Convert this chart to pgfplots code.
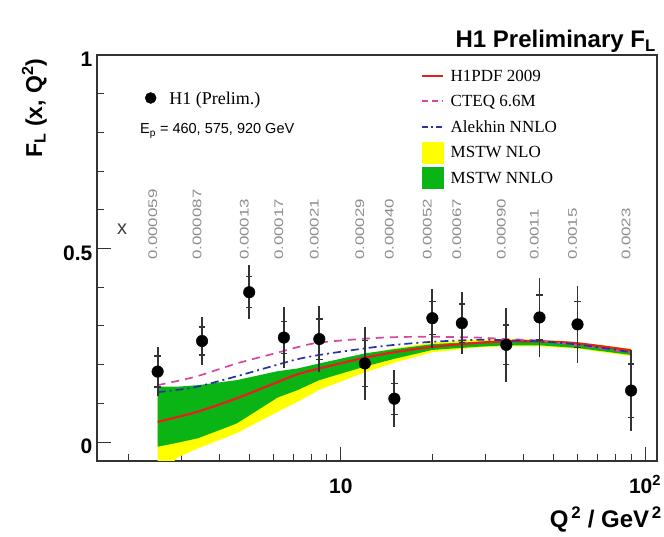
\documentclass[border=0pt]{standalone}
\usepackage{fontspec}
\setmainfont{Liberation Serif}
\newfontfamily\sansf{Liberation Sans}
\usepackage{graphicx}
\usepackage{pgfplots}
\usepackage{pgfplotstable}
\pgfplotsset{compat=1.18}

\definecolor{hred}{RGB}{230,30,30}
\definecolor{cteq}{RGB}{215,70,160}
\definecolor{alek}{RGB}{40,50,160}
\definecolor{mgreen}{RGB}{10,180,20}
\definecolor{myellow}{RGB}{255,255,0}

\pgfplotstableread{
x    y     tot    stat
2.5  0.182 0.064  0.040
3.5  0.261 0.061  0.036
5    0.387 0.070  0.040
6.5  0.270 0.078  0.042
8.5  0.266 0.085  0.052
12   0.203 0.095  0.060
15   0.112 0.073  0.040
20   0.320 0.076  0.043
25   0.307 0.080  0.050
35   0.251 0.096  0.051
45   0.322 0.102  0.058
60   0.304 0.099  0.059
90   0.133 0.105  0.069
}\hdata

\newcommand{\xl}[2]{\node[rotate=90, anchor=west, inner sep=0pt, text=black!45, font=\sansf\fontsize{12.5bp}{12.5bp}\selectfont] at (axis cs:#1,0.47) {\scalebox{1.35}[1]{#2}};}

\begin{document}
\begin{tikzpicture}
\useasboundingbox (0,0) rectangle (664bp,537bp);
\begin{axis}[
  at={(97bp,76bp)}, anchor=south west,
  scale only axis, width=560bp, height=406bp,
  xmode=log, xmin=1.58, xmax=109.5, ymin=-0.049, ymax=1,
  axis line style={line width=1.3bp, black!80},
  xtick={10,100}, xticklabels={10,{10\textsuperscript{2}}},
  minor xtick={2,3,4,5,6,7,8,9,20,30,40,50,60,70,80,90},
  ytick={0,0.5,1}, yticklabels={0,0.5,1},
  minor ytick={0.1,0.2,0.3,0.4,0.6,0.7,0.8,0.9},
  tick align=inside, xtick pos=left, ytick pos=left,
  major tick length=14bp, minor tick length=7bp,
  every tick/.style={line width=1bp, black!80},
  xticklabel style={font=\sansf\bfseries\fontsize{21bp}{21bp}\selectfont, anchor=north, inner sep=0pt, text height=15bp, text depth=0pt, yshift=-17bp},
  yticklabel style={font=\sansf\bfseries\fontsize{21bp}{21bp}\selectfont, anchor=east, inner sep=0pt, xshift=-4.5bp, yshift=-4.5bp},
  legend style={at={(0.5786,0.9803)}, anchor=north west, draw=none, fill=none,
    inner sep=0pt, outer sep=0pt, column sep=6.5bp, row sep=0pt,
    font=\fontsize{17bp}{17bp}\selectfont,
    nodes={inner sep=0pt, text depth=0pt, minimum height=25.5bp},
    cells={anchor=west}},
]
% MSTW NLO band
\addplot[draw=none, fill=myellow, forget plot] coordinates {
 (2.5,0.120) (2.9,0.130) (3.4,0.140) (4.55,0.155) (6.2,0.175) (7.2,0.185)
 (8.5,0.198) (12,0.226) (15,0.242) (20,0.257) (28,0.264) (35,0.266)
 (45,0.265) (60,0.258) (90,0.241)
 (90,0.222) (60,0.241) (45,0.247) (35,0.247) (28,0.244) (20,0.232)
 (15,0.205) (12,0.180) (8.5,0.135) (7.2,0.104) (6.2,0.078) (4.55,0.023)
 (3.4,-0.016) (2.9,-0.040) (2.5,-0.100)} -- cycle;
% MSTW NNLO band
\addplot[draw=none, fill=mgreen, forget plot] coordinates {
 (2.5,0.143) (2.9,0.143) (3.4,0.147) (4.55,0.160) (6.2,0.183) (7.2,0.190)
 (8.5,0.203) (12,0.229) (15,0.240) (20,0.253) (28,0.259) (35,0.262)
 (45,0.262) (60,0.255) (90,0.238)
 (90,0.225) (60,0.243) (45,0.250) (35,0.250) (28,0.246) (20,0.238)
 (15,0.215) (12,0.195) (8.5,0.160) (7.2,0.134) (6.2,0.115) (4.55,0.048)
 (3.4,0.010) (2.9,-0.002) (2.5,-0.012)} -- cycle;
% H1PDF 2009
\addplot[hred, line width=2.2bp, smooth, forget plot] coordinates {
 (2.5,0.052) (3.37,0.078) (4.55,0.113) (6.2,0.155) (7.2,0.175) (8.5,0.190)
 (12,0.218) (15,0.232) (20,0.246) (28,0.256) (35,0.260) (45,0.260)
 (60,0.255) (90,0.237)};
% CTEQ 6.6M
\addplot[cteq, line width=1.7bp, dash pattern=on 8bp off 6bp, smooth, forget plot] coordinates {
 (2.5,0.147) (2.72,0.153) (3.37,0.170) (4.55,0.203) (6.2,0.231) (7.2,0.245)
 (8.5,0.257) (12,0.267) (15,0.271) (20,0.272) (28,0.270) (35,0.266)
 (45,0.262) (60,0.250) (90,0.231)};
% Alekhin NNLO
\addplot[alek, line width=1.7bp, dash pattern=on 8bp off 4bp on 2bp off 4bp, smooth, forget plot] coordinates {
 (2.5,0.129) (2.72,0.132) (3.37,0.143) (4.55,0.170) (6.2,0.200) (7.2,0.214)
 (8.5,0.225) (12,0.242) (15,0.251) (20,0.259) (28,0.264) (35,0.263)
 (45,0.260) (60,0.252) (90,0.232)};
% total errors
\addplot[only marks, mark=none, forget plot, error bars/.cd, y dir=both, y explicit, error mark=none,
  error bar style={line width=1.8bp, black!80}] table[x=x, y=y, y error=tot] {\hdata};
% statistical error ticks
\addplot[only marks, mark=-, mark size=3.2bp, black!80, mark options={line width=1.3bp}, forget plot]
  table[x=x, y expr=\thisrow{y}+\thisrow{stat}] {\hdata};
\addplot[only marks, mark=-, mark size=3.2bp, black!80, mark options={line width=1.3bp}, forget plot]
  table[x=x, y expr=\thisrow{y}-\thisrow{stat}] {\hdata};
% data points
\addplot[only marks, mark=*, mark size=5.8bp, black, forget plot] table[x=x, y=y] {\hdata};

\addlegendimage{legend image code/.code={\draw[hred, line width=2.2bp] (0bp,0bp) -- (21bp,0bp);}}
\addlegendentry{H1PDF 2009}
\addlegendimage{legend image code/.code={\draw[cteq, line width=1.7bp, dash pattern=on 6bp off 4bp] (0bp,0bp) -- (21bp,0bp);}}
\addlegendentry{CTEQ 6.6M}
\addlegendimage{legend image code/.code={\draw[alek, line width=1.7bp, dash pattern=on 6bp off 3bp on 2bp off 3bp] (0bp,0bp) -- (21bp,0bp);}}
\addlegendentry{Alekhin NNLO}
\addlegendimage{legend image code/.code={\fill[myellow] (0bp,-10.5bp) rectangle (21bp,10.5bp);}}
\addlegendentry{MSTW NLO}
\addlegendimage{legend image code/.code={\fill[mgreen] (0bp,-10.5bp) rectangle (21bp,10.5bp);}}
\addlegendentry{MSTW NNLO}

% x values
\xl{2.41}{0.000059}
\xl{3.37}{0.000087}
\xl{4.82}{0.00013}
\xl{6.26}{0.00017}
\xl{8.19}{0.00021}
\xl{11.56}{0.00029}
\xl{14.45}{0.00040}
\xl{19.26}{0.00052}
\xl{24.08}{0.00067}
\xl{33.7}{0.00090}
\xl{43.3}{0.0011}
\xl{57.8}{0.0015}
\xl{86.7}{0.0023}
\node[inner sep=0pt, text=black!75, font=\sansf\fontsize{20bp}{20bp}\selectfont] at (axis cs:1.91,0.55) {x};
\end{axis}

\begin{axis}[
  at={(97bp,76bp)}, anchor=south west,
  scale only axis, width=560bp, height=406bp,
  hide axis, xmin=0, xmax=1, ymin=0, ymax=1,
  legend style={at={(0.0857,0.8941)}, anchor=west, draw=none, fill=none,
    inner sep=0pt, outer sep=0pt, column sep=13bp,
    font=\fontsize{18bp}{18bp}\selectfont,
    nodes={inner sep=0pt, text depth=0pt},
    cells={anchor=west}},
]
\addlegendimage{legend image code/.code={\fill[black] (5.5bp,0bp) circle[radius=5.5bp];}}
\addlegendentry{H1 (Prelim.)}
\end{axis}

\node[anchor=base west, inner sep=0pt, font=\sansf\fontsize{14.5bp}{14.5bp}\selectfont] at (140bp,403bp) {E\textsubscript{p} = 460, 575, 920 GeV};
\node[anchor=base east, inner sep=0pt, font=\sansf\bfseries\fontsize{24bp}{24bp}\selectfont] at (656bp,489bp) {H1 Preliminary F\textsubscript{L}};
\node[anchor=base east, inner sep=0pt, font=\sansf\bfseries\fontsize{24bp}{24bp}\selectfont] at (662bp,10bp) {Q\textsuperscript{\,2} / GeV\textsuperscript{\,2}};
\node[rotate=90, anchor=base, inner sep=0pt, font=\sansf\bfseries\fontsize{23bp}{23bp}\selectfont] at (42bp,429bp) {F\textsubscript{L} (x, Q\textsuperscript{2})};
\end{tikzpicture}
\end{document}
